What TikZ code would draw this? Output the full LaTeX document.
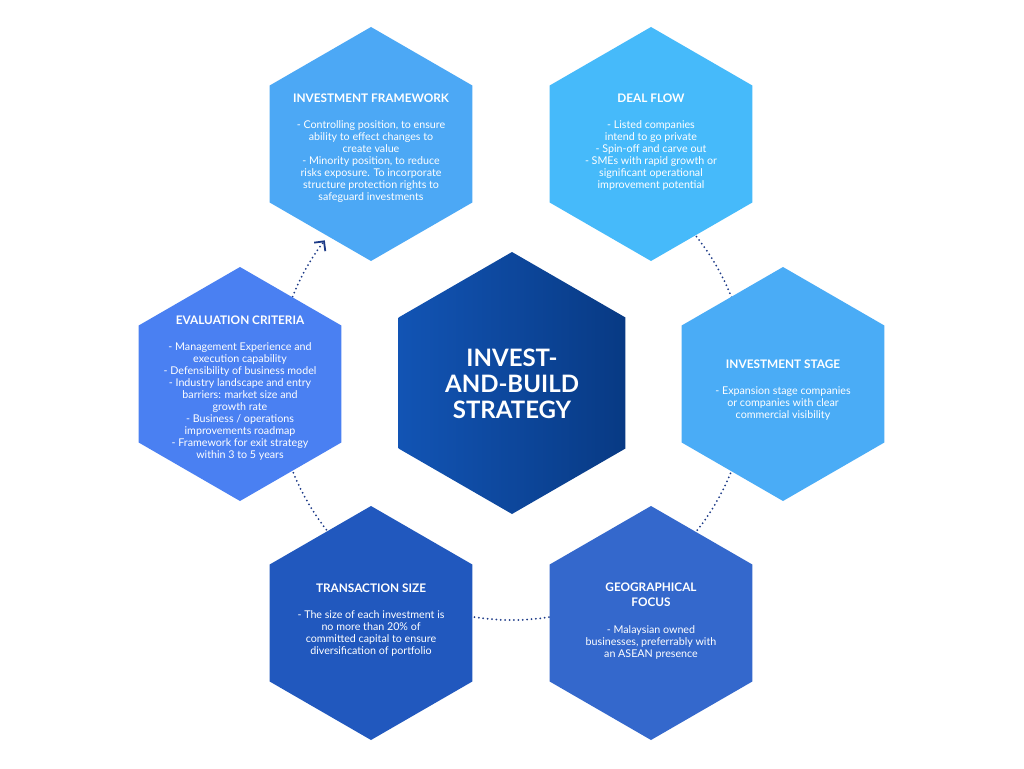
\documentclass[tikz,border=0pt]{standalone}
\usepackage{fontspec}
\setmainfont{Lato}
\usetikzlibrary{arrows.meta}
\definecolor{cIF}{RGB}{76,168,245}
\definecolor{cDF}{RGB}{70,186,250}
\definecolor{cEC}{RGB}{74,128,242}
\definecolor{cIS}{RGB}{74,172,246}
\definecolor{cTS}{RGB}{33,88,190}
\definecolor{cGF}{RGB}{52,104,204}
\definecolor{cL}{RGB}{18,84,180}
\definecolor{cR}{RGB}{8,58,132}
\definecolor{dotc}{RGB}{28,58,135}
\newcommand\myhexpath[2]{(#1) +(30:#2) -- +(90:#2) -- +(150:#2) -- +(210:#2) -- +(270:#2) -- +(330:#2) -- cycle}
\newcommand\ttl{\bfseries\fontsize{11.8}{13}\selectfont}
\begin{document}
\begin{tikzpicture}[x=1pt,y=-1pt,
  txt/.style={align=center,text=white,inner sep=0pt,font=\fontsize{10.7}{12}\selectfont},
  ctxt/.style={align=center,text=white,inner sep=0pt,font=\bfseries\fontsize{24}{26}\selectfont},
  dotline/.style={draw=dotc,line width=2pt,line cap=round,dash pattern=on 0pt off 4.4pt},
  tip/.style={-{Straight Barb[length=7pt,width=14pt,line width=1.8pt]}}]
\useasboundingbox (0,0) rectangle (1024,768);
\fill[white] (0,0) rectangle (1024,768);
% centres
\coordinate (ring) at (512,384);
\coordinate (cIFc) at (371,144);
\coordinate (cDFc) at (651,144);
\coordinate (cECc) at (240,384);
\coordinate (cISc) at (783,384);
\coordinate (cTSc) at (371,623);
\coordinate (cGFc) at (651,623);
\coordinate (cCc) at (512,383);
% dotted ring (hidden under the hexagons)
\draw[dotline,tip] (ring) ++(300:236) arc[start angle=300,end angle=577.5,radius=236];
% hexagons
\fill[cIF] \myhexpath{cIFc}{117};
\fill[cDF] \myhexpath{cDFc}{117};
\fill[cEC] \myhexpath{cECc}{117};
\fill[cIS] \myhexpath{cISc}{117};
\fill[cTS] \myhexpath{cTSc}{117};
\fill[cGF] \myhexpath{cGFc}{117};
\shade[left color=cL,right color=cR] \myhexpath{cCc}{131};
% texts
\node[ctxt] (core) at (512,384) {INVEST-\\AND-BUILD\\STRATEGY};
\node[txt] (if) at (371,148) {{\ttl INVESTMENT FRAMEWORK}\\[14pt]
- Controlling position, to ensure\\ability to effect changes to\\create value\\- Minority position, to reduce\\risks exposure. To incorporate\\structure protection rights to\\safeguard investments};
\node[txt] (df) at (651,142.5) {{\ttl DEAL FLOW}\\[14pt]
- Listed companies\\intend to go private\\- Spin-off and carve out\\- SMEs with rapid growth or\\significant operational\\improvement potential};
\node[txt] (ec) at (240,388.5) {{\ttl EVALUATION CRITERIA}\\[14pt]
- Management Experience and\\execution capability\\- Defensibility of business model\\- Industry landscape and entry\\barriers: market size and\\growth rate\\- Business / operations\\improvements roadmap\\- Framework for exit strategy\\within 3 to 5 years};
\node[txt] (is) at (783,390) {{\ttl INVESTMENT STAGE}\\[14pt]
- Expansion stage companies\\or companies with clear\\commercial visibility};
\node[txt] (ts) at (371,620) {{\ttl TRANSACTION SIZE}\\[14pt]
- The size of each investment is\\no more than 20\% of\\committed capital to ensure\\diversification of portfolio};
\node[txt] (gf) at (651,621) {{\ttl GEOGRAPHICAL}\\[3pt]{\ttl FOCUS}\\[15pt]
- Malaysian owned\\businesses, preferrably with\\an ASEAN presence};
\end{tikzpicture}
\end{document}
